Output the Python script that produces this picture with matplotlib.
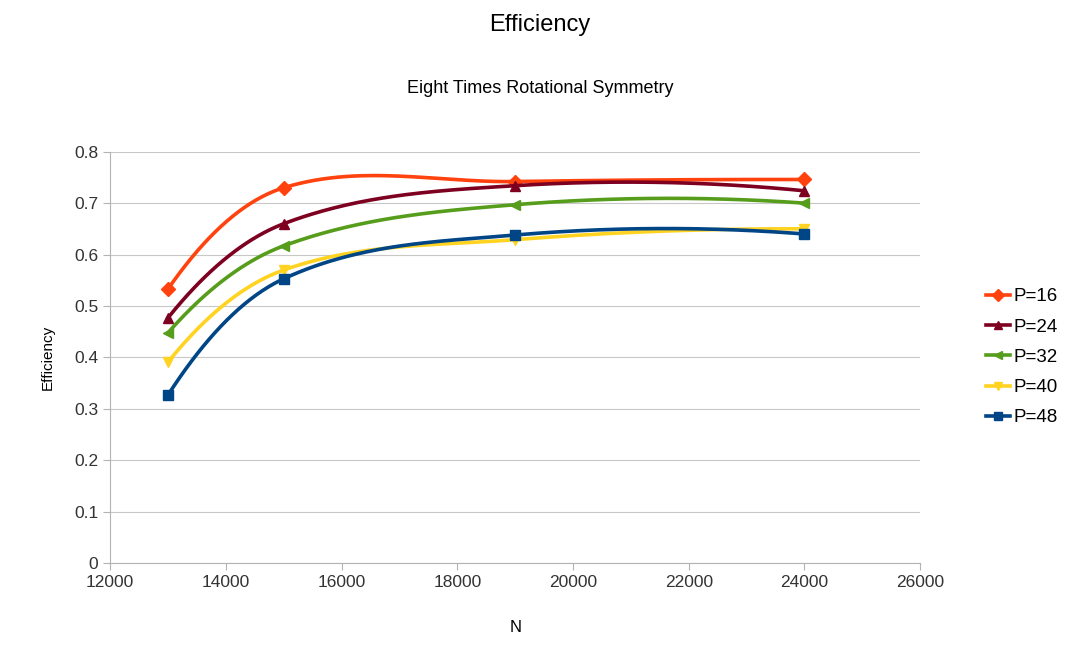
import numpy as np
import matplotlib.pyplot as plt

plt.rcParams['font.family'] = ['Liberation Sans', 'DejaVu Sans']

n_vals = [13000, 15000, 19000, 24000]
labels = ["P=16", "P=24", "P=32", "P=40", "P=48"]
p16 = [0.533, 0.730, 0.742, 0.746]
p24 = [0.477, 0.660, 0.734, 0.724]
p32 = [0.448, 0.617, 0.697, 0.700]
p40 = [0.391, 0.570, 0.629, 0.650]
p48 = [0.327, 0.553, 0.638, 0.640]
series = [p16, p24, p32, p40, p48]
colors = ['#ff420e', '#7e0021', '#579d1c', '#ffd320', '#004586']
markers = ['D', '^', '<', 'v', 's']


def smooth(x, y, num=60):
    # hermite curve with catmull-rom style tangents
    x = np.asarray(x, float)
    y = np.asarray(y, float)
    n = len(x)
    d = np.diff(y) / np.diff(x)
    m = np.zeros(n)
    for i in range(1, n - 1):
        m[i] = (y[i + 1] - y[i - 1]) / (x[i + 1] - x[i - 1])
    m[0] = 2 * d[0] - m[1]
    m[-1] = 2 * d[-1] - m[-2]
    xs_all, ys_all = [], []
    for i in range(n - 1):
        h = x[i + 1] - x[i]
        t = np.linspace(0, 1, num)
        h00 = 2 * t ** 3 - 3 * t ** 2 + 1
        h10 = t ** 3 - 2 * t ** 2 + t
        h01 = -2 * t ** 3 + 3 * t ** 2
        h11 = t ** 3 - t ** 2
        ys = h00 * y[i] + h10 * h * m[i] + h01 * y[i + 1] + h11 * h * m[i + 1]
        xs_all.append(x[i] + t * h)
        ys_all.append(ys)
    return np.concatenate(xs_all), np.concatenate(ys_all)


fig = plt.figure(figsize=(10.8, 6.54), dpi=100)
ax = fig.add_axes([0.102, 0.139, 0.750, 0.629])

for lab, vals, c, mk in zip(labels, series, colors, markers):
    xs, ys = smooth(n_vals, vals)
    ax.plot(xs, ys, color=c, lw=2.6)
    ax.plot(n_vals, vals, ls='none', marker=mk, color=c, ms=7)
    ax.plot([], [], color=c, lw=2.6, marker=mk, ms=6, label=lab)

ax.set_xlim(12000, 26000)
ax.set_ylim(0, 0.8)
ax.set_xticks(range(12000, 26001, 2000))
ax.set_yticks(np.arange(0, 0.81, 0.1))
ax.set_yticklabels(['0', '0.1', '0.2', '0.3', '0.4', '0.5', '0.6', '0.7', '0.8'])
ax.tick_params(labelsize=12.5, colors='#333333', length=5, color='#b3b3b3')
ax.grid(axis='y', color='#c8c8c8', lw=0.8)
ax.set_axisbelow(True)
for s in ['top', 'right']:
    ax.spines[s].set_visible(False)
for s in ['left', 'bottom']:
    ax.spines[s].set_color('#b3b3b3')

ax.set_xlabel('N', fontsize=12, labelpad=22)
ax.set_ylabel('Efficiency', fontsize=11, labelpad=14)

fig.text(0.5, 0.962, 'Efficiency', ha='center', va='center', fontsize=17)
fig.text(0.5, 0.865, 'Eight Times Rotational Symmetry', ha='center', va='center', fontsize=13)

ax.legend(loc='center left', bbox_to_anchor=(1.06, 0.5), frameon=False,
          fontsize=13.5, handlelength=1.3, handletextpad=0.2, labelspacing=0.7)

fig.savefig('out.png', dpi=100)
